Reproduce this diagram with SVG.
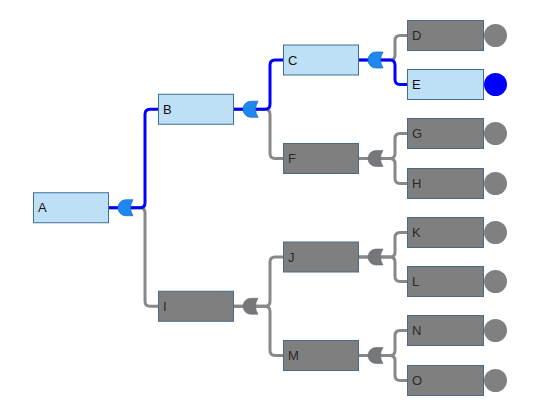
<svg xmlns="http://www.w3.org/2000/svg" width="541" height="408" viewBox="0 0 541 408">
<style>
.nb{fill:#bde0f6;stroke:#3f6f95;stroke-width:1}
.ng{fill:#7f7f7f;stroke:#4a6a88;stroke-width:1}
.t{font-family:"Liberation Sans",Arial,sans-serif;font-size:13px;fill:#111}
.tg{font-family:"Liberation Sans",Arial,sans-serif;font-size:13px;fill:#2a2a2a}
.cb{fill:none;stroke:#0000ff;stroke-width:3}
.cg{fill:none;stroke:#888888;stroke-width:3}
.gb{fill:#1e88f0;stroke:#1a6ec8;stroke-width:0.8}
.gg{fill:#777777;stroke:#5a7090;stroke-width:0.6}
.lg{fill:#808080}
.lb{fill:#0000ff}
</style>
<defs>
<path id="gate" d="M8,-8 H15 Q10,0 15,8 H8 A8,8 0 0 1 8,-8 Z"/>
</defs>
<g id="connectors">
<!-- level 1 -->
<path class="cg" d="M108.5,207.75 H140 Q145,207.75 145,212.75 V301.25 Q145,306.25 150,306.25 H158.5"/>
<path class="cb" d="M108.5,207.75 H140 Q145,207.75 145,202.75 V114.25 Q145,109.25 150,109.25 H158.5"/>
<!-- level 2 B -->
<path class="cg" d="M233.5,109.25 H265 Q270,109.25 270,114.25 V153.5 Q270,158.5 275,158.5 H283.5"/>
<path class="cb" d="M233.5,109.25 H265 Q270,109.25 270,104.25 V65 Q270,60 275,60 H283.5"/>
<!-- level 2 I -->
<path class="cg" d="M233.5,306.25 H265 Q270,306.25 270,301.25 V262 Q270,257 275,257 H283.5"/>
<path class="cg" d="M233.5,306.25 H265 Q270,306.25 270,311.25 V350.5 Q270,355.5 275,355.5 H283.5"/>
<!-- level 3 C -->
<path class="cg" d="M358.5,60 H390 Q395,60 395,55 V40.5 Q395,35.5 400,35.5 H407.5"/>
<path class="cb" d="M358.5,60 H390 Q395,60 395,65 V79.5 Q395,84.5 400,84.5 H407.5"/>
<!-- level 3 F -->
<path class="cg" d="M358.5,158.5 H390 Q395,158.5 395,153.5 V138.5 Q395,133.5 400,133.5 H407.5"/>
<path class="cg" d="M358.5,158.5 H390 Q395,158.5 395,163.5 V178.5 Q395,183.5 400,183.5 H407.5"/>
<!-- level 3 J -->
<path class="cg" d="M358.5,257 H390 Q395,257 395,252 V237.5 Q395,232.5 400,232.5 H407.5"/>
<path class="cg" d="M358.5,257 H390 Q395,257 395,262 V276.5 Q395,281.5 400,281.5 H407.5"/>
<!-- level 3 M -->
<path class="cg" d="M358.5,355.5 H390 Q395,355.5 395,350.5 V335.5 Q395,330.5 400,330.5 H407.5"/>
<path class="cg" d="M358.5,355.5 H390 Q395,355.5 395,360.5 V375.5 Q395,380.5 400,380.5 H407.5"/>
<!-- gates -->
<use href="#gate" class="gb" x="118" y="207.75"/>
<use href="#gate" class="gb" x="243" y="109.25"/>
<use href="#gate" class="gg" x="243" y="306.25"/>
<use href="#gate" class="gb" x="368" y="60"/>
<use href="#gate" class="gg" x="368" y="158.5"/>
<use href="#gate" class="gg" x="368" y="257"/>
<use href="#gate" class="gg" x="368" y="355.5"/>
</g>
<g id="A"><rect class="nb" x="33.5" y="192.75" width="75" height="30"/><text class="t" x="38" y="212">A</text></g>
<g id="B"><rect class="nb" x="158.5" y="94.25" width="75" height="30"/><text class="t" x="163" y="113.5">B</text></g>
<g id="I"><rect class="ng" x="158.5" y="291.25" width="75" height="30"/><text class="tg" x="163" y="310.5">I</text></g>
<g id="C"><rect class="nb" x="283.5" y="45" width="75" height="30"/><text class="t" x="288" y="64.5">C</text></g>
<g id="F"><rect class="ng" x="283.5" y="143.5" width="75" height="30"/><text class="tg" x="288" y="163">F</text></g>
<g id="J"><rect class="ng" x="283.5" y="242" width="75" height="30"/><text class="tg" x="288" y="261.5">J</text></g>
<g id="M"><rect class="ng" x="283.5" y="340.5" width="75" height="30"/><text class="tg" x="288" y="360">M</text></g>
<g id="D"><rect class="ng" x="407.5" y="20.5" width="76" height="30"/><text class="tg" x="412" y="40">D</text><circle class="lg" cx="495.5" cy="35.5" r="11.5"/></g>
<g id="E"><rect class="nb" x="407.5" y="69.5" width="76" height="30"/><text class="t" x="412" y="89">E</text><circle class="lb" cx="495.5" cy="84.5" r="11.5"/></g>
<g id="G"><rect class="ng" x="407.5" y="118.5" width="76" height="30"/><text class="tg" x="412" y="138">G</text><circle class="lg" cx="495.5" cy="133.5" r="11.5"/></g>
<g id="H"><rect class="ng" x="407.5" y="168.5" width="76" height="30"/><text class="tg" x="412" y="188">H</text><circle class="lg" cx="495.5" cy="183.5" r="11.5"/></g>
<g id="K"><rect class="ng" x="407.5" y="217.5" width="76" height="30"/><text class="tg" x="412" y="237">K</text><circle class="lg" cx="495.5" cy="232.5" r="11.5"/></g>
<g id="L"><rect class="ng" x="407.5" y="266.5" width="76" height="30"/><text class="tg" x="412" y="286">L</text><circle class="lg" cx="495.5" cy="281.5" r="11.5"/></g>
<g id="N"><rect class="ng" x="407.5" y="315.5" width="76" height="30"/><text class="tg" x="412" y="335">N</text><circle class="lg" cx="495.5" cy="330.5" r="11.5"/></g>
<g id="O"><rect class="ng" x="407.5" y="365.5" width="76" height="30"/><text class="tg" x="412" y="385">O</text><circle class="lg" cx="495.5" cy="380.5" r="11.5"/></g>
</svg>
